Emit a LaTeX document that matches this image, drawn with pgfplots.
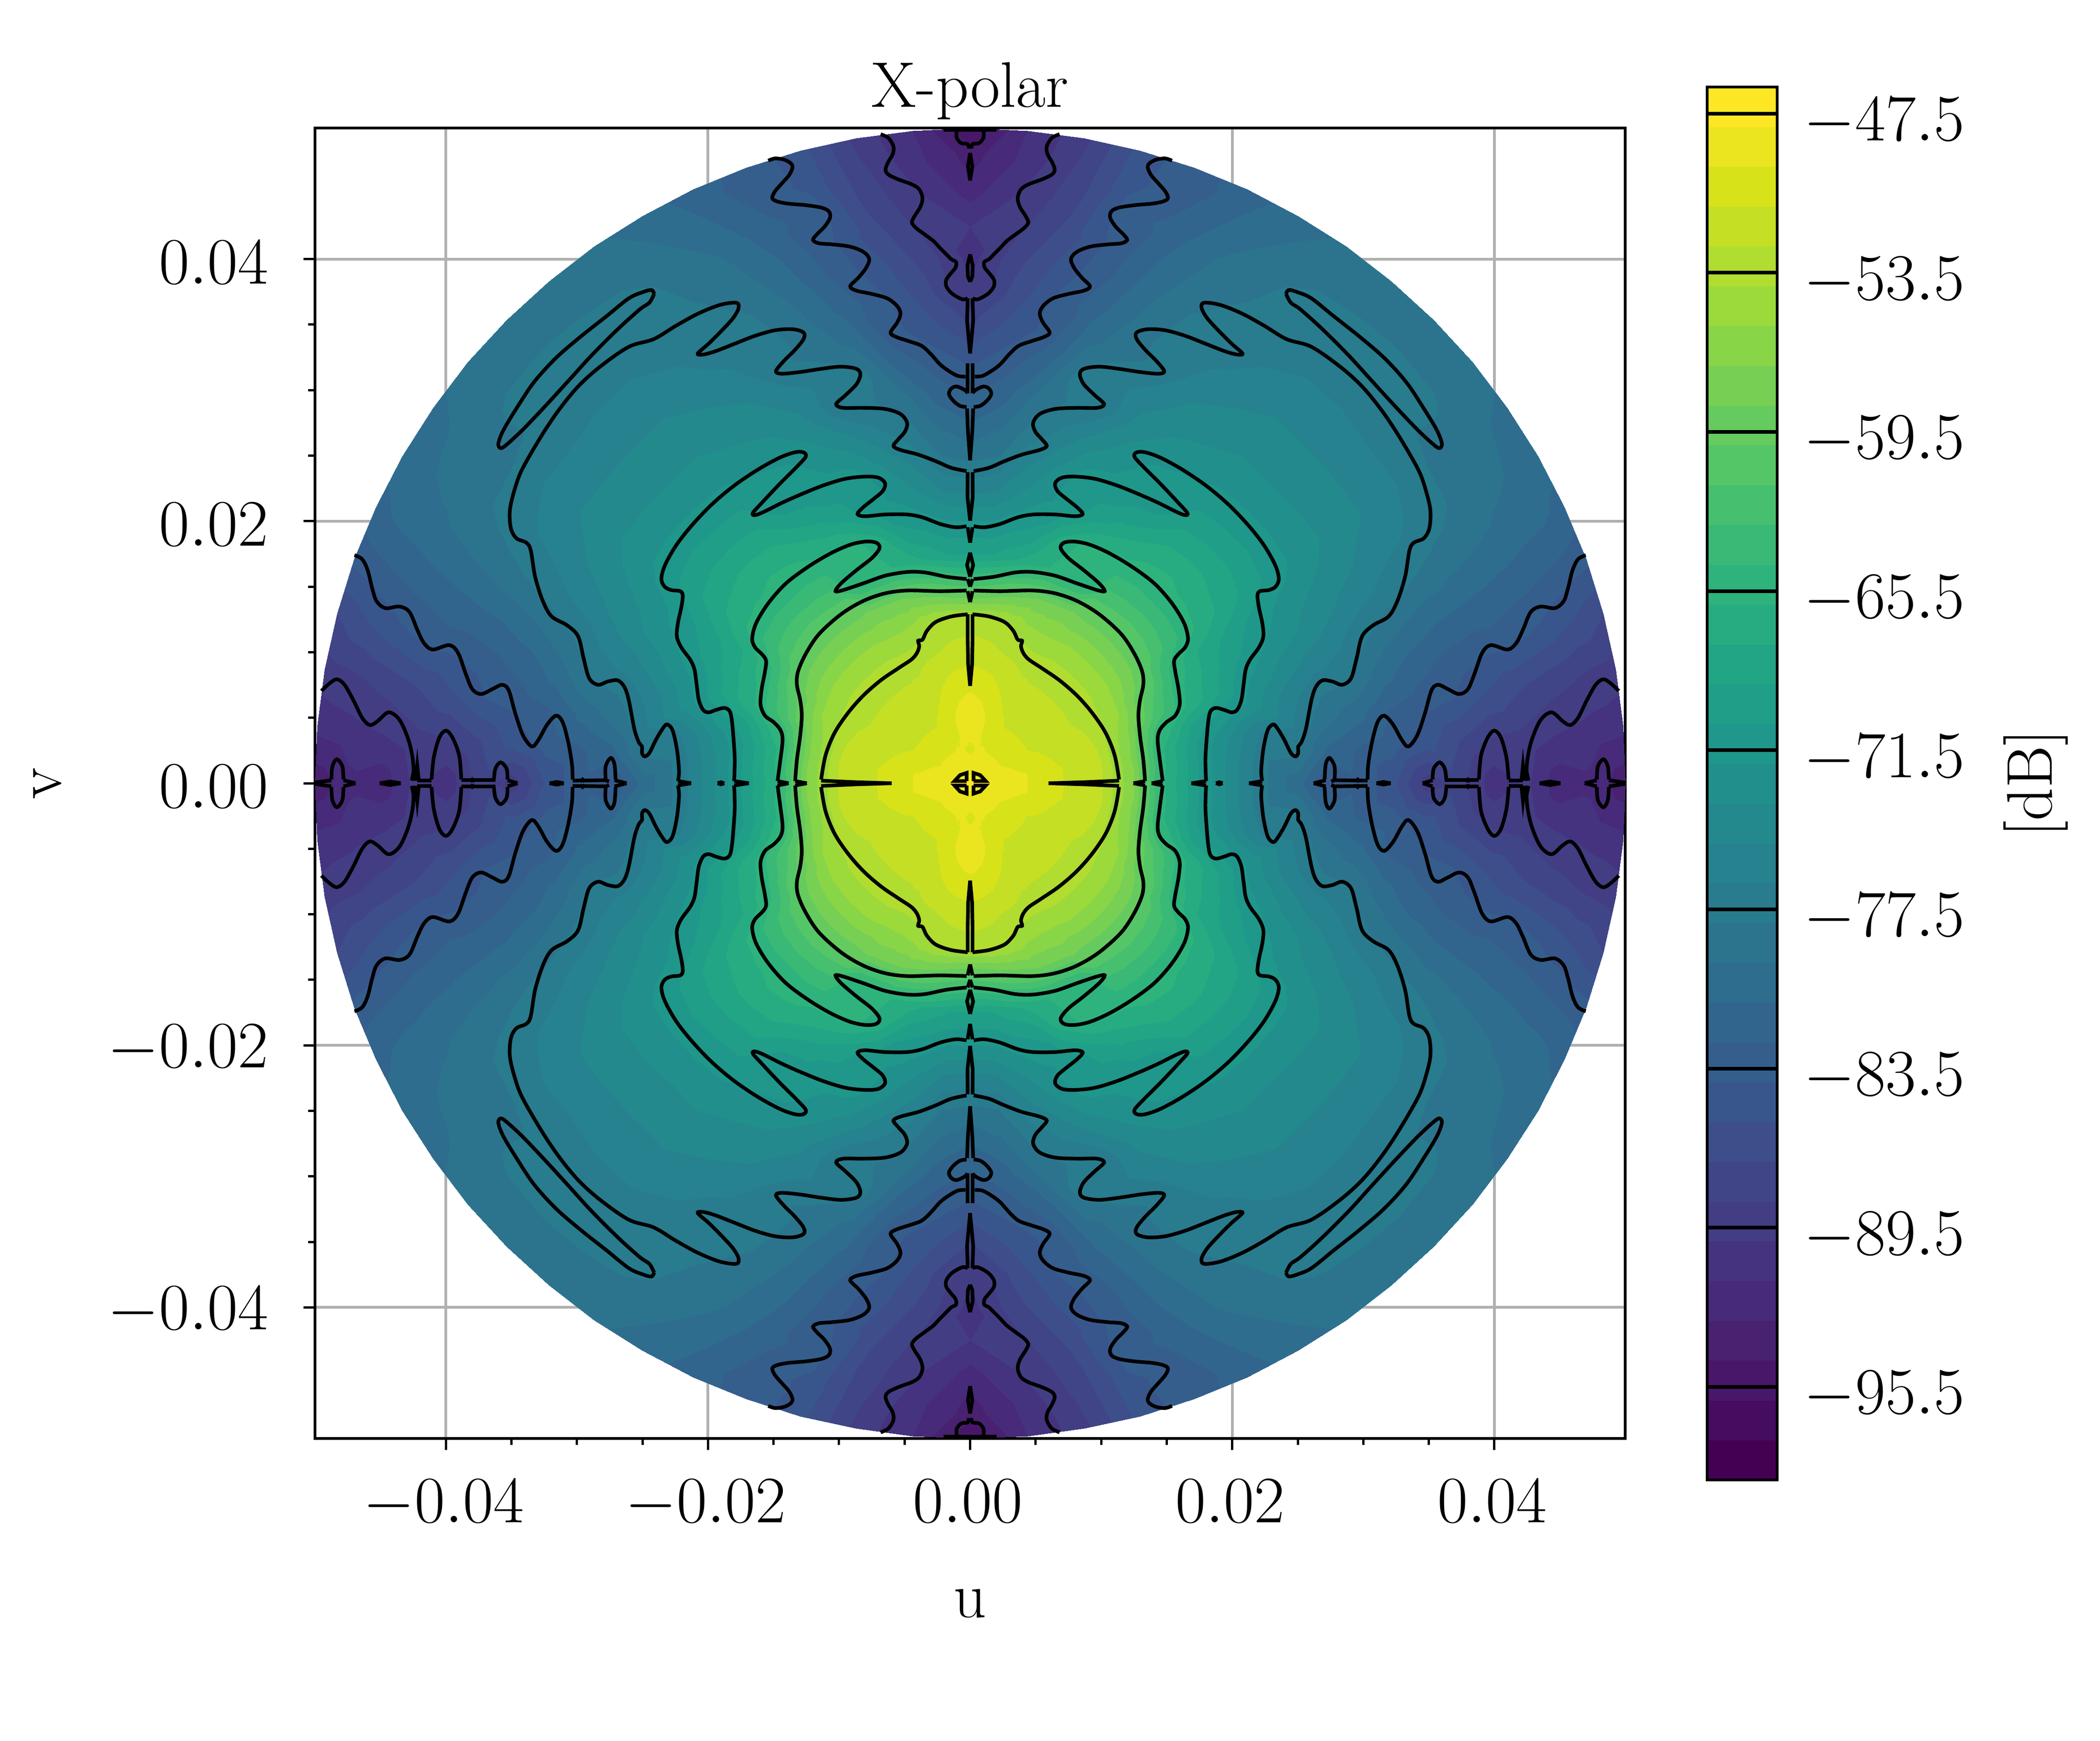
\documentclass[border=0pt]{standalone}
\usepackage{pgfplots}
\usepackage{pgfplotstable}
\pgfplotsset{compat=1.18}
\pgfplotstableread{
k t z
0 0 -47.5
1 0 -48.3
2 0 -49.9
3 0 -51.2
4 0 -52.3
5 0 -57
6 0 -66.5
7 0 -70.6
8 0 -74.3
9 0 -77.8
10 0 -80.5
11 0 -84.5
12 0 -83
13 0 -85.5
14 0 -89.5
15 0 -88
16 0 -91
17 0 -89.7
18 0 -92.5
19 0 -92
20 0 -94
0 5 -47.5
1 5 -48.3
2 5 -49.9
3 5 -51.2
4 5 -52.3
5 5 -57
6 5 -66
7 5 -70.5
8 5 -74.2
9 5 -77.6
10 5 -77.8
11 5 -81.5
12 5 -82.8
13 5 -83.4
14 5 -84.8
15 5 -87
16 5 -88.5
17 5 -88.9
18 5 -89.9
19 5 -90.5
20 5 -91
0 10 -47.5
1 10 -48.3
2 10 -49.9
3 10 -51.2
4 10 -52.3
5 10 -57.2
6 10 -66
7 10 -70.4
8 10 -73.5
9 10 -76.5
10 10 -76.5
11 10 -79
12 10 -80.5
13 10 -82.5
14 10 -83.3
15 10 -84
16 10 -85.5
17 10 -86.8
18 10 -87.8
19 10 -88.6
20 10 -89.2
0 15 -47.5
1 15 -48.8
2 15 -50.3
3 15 -51.4
4 15 -52.5
5 15 -56.8
6 15 -64.5
7 15 -69
8 15 -71.3
9 15 -73
10 15 -75.7
11 15 -77.6
12 15 -78
13 15 -80.2
14 15 -81.8
15 15 -82.7
16 15 -83.3
17 15 -83.4
18 15 -84.3
19 15 -85.5
20 15 -87
0 20 -47.5
1 20 -49
2 20 -50.5
3 20 -51.6
4 20 -52.6
5 20 -56.2
6 20 -61.9
7 20 -66
8 20 -68.7
9 20 -71.9
10 20 -73.8
11 20 -75.5
12 20 -76.5
13 20 -78.2
14 20 -79.5
15 20 -80.5
16 20 -81
17 20 -81.5
18 20 -82
19 20 -82.8
20 20 -83.5
0 25 -47.5
1 25 -49.2
2 25 -50.7
3 25 -51.8
4 25 -52.7
5 25 -55.5
6 25 -60.8
7 25 -65.5
8 25 -68
9 25 -70.4
10 25 -72.2
11 25 -73.5
12 25 -74.8
13 25 -76
14 25 -77
15 25 -78
16 25 -78.8
17 25 -79.5
18 25 -80
19 25 -80.5
20 25 -81.5
0 30 -47.5
1 30 -49.4
2 30 -51
3 30 -52
4 30 -52.9
5 30 -55.3
6 30 -59.2
7 30 -64.5
8 30 -67.5
9 30 -69.3
10 30 -71
11 30 -72.5
12 30 -73.5
13 30 -74.5
14 30 -75.5
15 30 -76.3
16 30 -77.2
17 30 -78.2
18 30 -79
19 30 -79.6
20 30 -80.3
0 35 -47.5
1 35 -49.4
2 35 -51
3 35 -52
4 35 -52.9
5 35 -55
6 35 -58.5
7 35 -62.5
8 35 -65.3
9 35 -67.3
10 35 -69
11 35 -70.8
12 35 -72.3
13 35 -73.5
14 35 -74.5
15 35 -75.5
16 35 -76.6
17 35 -78
18 35 -78.8
19 35 -79.3
20 35 -79.8
0 40 -47.5
1 40 -49.4
2 40 -51
3 40 -52
4 40 -52.9
5 40 -55
6 40 -58.3
7 40 -62
8 40 -65
9 40 -66.8
10 40 -68.5
11 40 -70.4
12 40 -72.2
13 40 -73.5
14 40 -74.5
15 40 -75.5
16 40 -76.6
17 40 -77.6
18 40 -77.5
19 40 -78.5
20 40 -79
0 45 -47.5
1 45 -49.4
2 45 -51
3 45 -52
4 45 -52.9
5 45 -55
6 45 -58.2
7 45 -61.8
8 45 -65
9 45 -66.3
10 45 -68.5
11 45 -70.5
12 45 -72.2
13 45 -73.6
14 45 -74.5
15 45 -75.5
16 45 -76.4
17 45 -77.4
18 45 -77.4
19 45 -78.4
20 45 -78.6
0 50 -47.5
1 50 -49.4
2 50 -51
3 50 -52
4 50 -52.9
5 50 -55
6 50 -58.2
7 50 -62
8 50 -64.9
9 50 -66.5
10 50 -68.7
11 50 -70.7
12 50 -72.3
13 50 -73.5
14 50 -74.5
15 50 -75.4
16 50 -76.4
17 50 -77.5
18 50 -77.4
19 50 -78.5
20 50 -79
0 55 -47.5
1 55 -49.4
2 55 -51
3 55 -52
4 55 -52.9
5 55 -55
6 55 -58.3
7 55 -62.3
8 55 -65.2
9 55 -67.5
10 55 -70.5
11 55 -71.2
12 55 -72.8
13 55 -74
14 55 -75
15 55 -76
16 55 -76.9
17 55 -77.8
18 55 -77.5
19 55 -78.8
20 55 -79.3
0 60 -47.5
1 60 -49.4
2 60 -51
3 60 -52
4 60 -52.9
5 60 -55.3
6 60 -58
7 60 -65.5
8 60 -65.3
9 60 -68.5
10 60 -71
11 60 -71.6
12 60 -73.2
13 60 -74.5
14 60 -75.7
15 60 -77
16 60 -77.2
17 60 -78
18 60 -78.5
19 60 -79.5
20 60 -80
0 65 -47.5
1 65 -49.4
2 65 -50.6
3 65 -51.8
4 65 -52.9
5 65 -55.3
6 65 -58.3
7 65 -66
8 65 -65.8
9 65 -69.8
10 65 -71.4
11 65 -72.8
12 65 -74.3
13 65 -75.8
14 65 -77.6
15 65 -77.4
16 65 -78.2
17 65 -79
18 65 -79.8
19 65 -81
20 65 -82
0 70 -47.5
1 70 -49.3
2 70 -50.2
3 70 -51.3
4 70 -52.6
5 70 -55
6 70 -58.5
7 70 -66
8 70 -67.5
9 70 -71.5
10 70 -71.6
11 70 -74
12 70 -76.8
13 70 -76.9
14 70 -78.5
15 70 -79.2
16 70 -80
17 70 -81
18 70 -82
19 70 -83
20 70 -83
0 75 -47.5
1 75 -49.4
2 75 -49.7
3 75 -50.8
4 75 -52.4
5 75 -54
6 75 -59.2
7 75 -66.8
8 75 -70.2
9 75 -72.2
10 75 -73.6
11 75 -76
12 75 -77.8
13 75 -77.6
14 75 -80
15 75 -81.5
16 75 -82.8
17 75 -83.5
18 75 -83.3
19 75 -84.5
20 75 -85
0 80 -47.5
1 80 -49.4
2 80 -49.1
3 80 -50.3
4 80 -52.1
5 80 -53.4
6 80 -60
7 80 -68
8 80 -71
9 80 -73.5
10 80 -75.5
11 80 -77.5
12 80 -79
13 80 -81.5
14 80 -83.5
15 80 -83.8
16 80 -85
17 80 -86.3
18 80 -87.5
19 80 -88.2
20 80 -89
0 85 -47.5
1 85 -49.6
2 85 -48.7
3 85 -50
4 85 -51.9
5 85 -53.2
6 85 -61
7 85 -69
8 85 -71.9
9 85 -75.2
10 85 -78
11 85 -79.8
12 85 -81.8
13 85 -83.3
14 85 -85
15 85 -86.5
16 85 -87.5
17 85 -88.8
18 85 -89.8
19 85 -91
20 85 -91.5
0 90 -47.5
1 90 -49.8
2 90 -48.4
3 90 -49.8
4 90 -51.8
5 90 -53.2
6 90 -61.5
7 90 -69
8 90 -72
9 90 -75.6
10 90 -78.5
11 90 -81
12 90 -82.8
13 90 -84.5
14 90 -87
15 90 -89.8
16 90 -90.5
17 90 -90
18 90 -92
19 90 -93.5
20 90 -96
}\meshdata
\newcommand\fsz{\fontsize{16.8}{20}\selectfont}
\tikzset{cl/.style={black,line width=0.95pt,no markers},
  sm/.style={cl,smooth,tension=0.55}}
% a contour piece in one quadrant, in reading units (594.8 units = 0.01), drawn in all four
\newcommand\Qq[2]{%
\addplot[#1] table[row sep=\\,x expr={\thisrow{a}*0.0000168124},y expr={\thisrow{b}*0.0000168124}]{a b\\#2};
\addplot[#1] table[row sep=\\,x expr={-\thisrow{a}*0.0000168124},y expr={\thisrow{b}*0.0000168124}]{a b\\#2};
\addplot[#1] table[row sep=\\,x expr={\thisrow{a}*0.0000168124},y expr={-\thisrow{b}*0.0000168124}]{a b\\#2};
\addplot[#1] table[row sep=\\,x expr={-\thisrow{a}*0.0000168124},y expr={-\thisrow{b}*0.0000168124}]{a b\\#2};
}
\newcommand\Q[1]{\Qq{sm}{#1}}
\newcommand\Qs[1]{\Qq{cl}{#1}}
\newcommand\Mesh[2]{%
\addplot[surf,shader=interp,mesh/cols=21,mesh/rows=19,point meta=\thisrow{z}] table[x expr={#1*\thisrow{k}*0.0025*cos(\thisrow{t})},y expr={#2*\thisrow{k}*0.0025*sin(\thisrow{t})}]{\meshdata};
}
\begin{document}
\begin{tikzpicture}
\useasboundingbox (0,0) rectangle (547.2pt,453.6pt);
\begin{axis}[at={(82.03pt,78.72pt)},anchor=south west,scale only axis,width=341.5pt,height=341.5pt,
  xmin=-0.05,xmax=0.05,ymin=-0.05,ymax=0.05,
  xtick={-0.04,-0.02,0,0.02,0.04},ytick={-0.04,-0.02,0,0.02,0.04},
  minor tick num=3,grid=major,
  major grid style={color=black!31,line width=0.72pt},
  axis line style={line width=0.72pt},
  tick style={black,line width=0.6pt},
  major tick length=3pt,minor tick length=1.7pt,
  tick align=outside,xtick pos=bottom,ytick pos=left,
  scaled ticks=false,
  xticklabel style={yshift=-4.2pt,xshift=-0.6pt,/pgf/number format/.cd,fixed,fixed zerofill,precision=2},
  yticklabel style={xshift=-5.6pt,yshift=-0.9pt,/pgf/number format/.cd,fixed,fixed zerofill,precision=2},
  tick label style={font=\fsz},
  xlabel={u},ylabel={v},title={X-polar},
  every axis x label/.style={at={(axis description cs:0.5,0)},anchor=center,yshift=-43pt,font=\fsz},
  every axis y label/.style={at={(axis description cs:0,0.5)},anchor=center,xshift=-69.7pt,rotate=90,font=\fsz},
  every axis title/.style={at={(axis description cs:0.5,1)},anchor=base,yshift=5.5pt,font=\fsz},
  point meta min=-99,point meta max=-46.5,
  colormap/viridis,
  colormap={vd}{samples of colormap=(35 of viridis)},
  colormap access=piecewise constant]
\Mesh{1}{1}
\Mesh{-1}{1}
\Mesh{1}{-1}
\Mesh{-1}{-1}
% -53.5
\Q{11 767\\86 757\\156 732\\196 692\\216 652\\236 647\\231 622\\241 592\\266 562\\326 522\\406 467\\486 397\\556 317\\616 227\\656 127\\676 17\\}
\Qs{356 0\\520 5\\676 12\\}
% -59.5
\Q{16 875\\136 872\\286 875\\386 862\\486 827\\586 767\\686 677\\746 587\\781 507\\786 447\\771 377\\764 307\\771 217\\786 107\\794 10\\}
\Qs{741 0\\794 10\\}
% -65.5
\Q{16 927\\106 937\\206 957\\286 959\\386 942\\486 907\\576 877\\611 872\\586 907\\516 967\\446 1022\\411 1067\\426 1092\\476 1097\\546 1082\\636 1042\\736 982\\836 907\\916 817\\971 727\\989 657\\976 617\\946 587\\926 557\\931 507\\946 427\\951 357\\931 307\\891 277\\861 242\\851 197\\861 107\\874 10\\}
\Qs{824 0\\874 10\\}
% -71.5
\Q{16 1167\\66 1162\\136 1177\\216 1207\\286 1220\\386 1220\\476 1212\\511 1222\\486 1252\\436 1292\\396 1327\\386 1362\\416 1387\\476 1392\\566 1382\\666 1352\\766 1312\\856 1272\\936 1232\\976 1217\\986 1227\\946 1272\\866 1357\\786 1437\\746 1482\\756 1502\\796 1502\\866 1477\\966 1422\\1076 1347\\1176 1262\\1266 1167\\1336 1077\\1386 987\\1401 927\\1386 892\\1356 877\\1316 872\\1304 852\\1311 797\\1326 727\\1331 667\\1311 617\\1271 562\\1251 517\\1241 447\\1231 377\\1211 332\\1186 322\\1156 332\\1116 342\\1091 327\\1081 282\\1074 207\\1068 107\\1071 10\\}
\Qs{1004 0\\1071 10\\}
\Qs{1116 0\\1131 5\\1146 0\\}
% -77.5
\Q{16 1417\\86 1432\\156 1462\\236 1492\\316 1513\\348 1531\\326 1561\\296 1596\\286 1636\\316 1676\\386 1699\\486 1704\\576 1704\\608 1721\\566 1761\\516 1811\\498 1856\\516 1881\\586 1891\\676 1881\\776 1866\\856 1859\\881 1871\\846 1916\\796 1966\\756 2016\\756 2046\\806 2061\\886 2056\\976 2031\\1066 1996\\1156 1961\\1211 1946\\1236 1951\\1186 1996\\1126 2056\\1076 2111\\1051 2156\\1061 2181\\1136 2171\\1236 2131\\1336 2076\\1436 2016\\1549 1981\\1679 1891\\1779 1801\\1869 1691\\1949 1571\\2034 1423\\2069 1327\\2089 1237\\2084 1157\\2059 1112\\2014 1092\\1994 1057\\1974 937\\1939 827\\1899 757\\1829 717\\1779 667\\1754 567\\1729 477\\1689 447\\1644 462\\1599 467\\1569 437\\1549 377\\1524 247\\1504 187\\1489 167\\1489 137\\1477 122\\1456 137\\1426 197\\1396 247\\1376 267\\1351 242\\1331 157\\1321 57\\1326 10\\}
\Qs{1266 0\\1326 10\\}
% ellipse
\Q{1434 2221\\1446 2239\\1486 2229\\1549 2201\\1649 2121\\1769 2026\\1879 1931\\1979 1821\\2059 1701\\2119 1601\\2141 1541\\2129 1521\\2099 1541\\2029 1606\\1929 1711\\1819 1831\\1719 1941\\1599 2061\\1499 2151\\1456 2181\\1434 2221\\}
% -83.5
\Q{21 1846\\56 1849\\96 1871\\136 1901\\181 1951\\221 1986\\276 2006\\336 2026\\361 2046\\331 2091\\316 2131\\331 2166\\376 2201\\446 2221\\516 2236\\544 2256\\506 2296\\471 2341\\458 2381\\486 2413\\546 2436\\626 2446\\686 2451\\713 2466\\696 2491\\661 2526\\636 2566\\641 2596\\676 2613\\746 2624\\826 2631\\876 2641\\898 2656\\886 2686\\856 2721\\821 2761\\806 2796\\816 2816\\846 2831\\886 2836\\916 2826\\}
\Q{2794 1035\\2759 1017\\2734 967\\2714 887\\2694 827\\2654 795\\2589 802\\2544 777\\2509 697\\2479 637\\2439 607\\2364 627\\2324 592\\2289 497\\2259 427\\2219 405\\2169 427\\2124 447\\2094 422\\2064 317\\2029 217\\1989 167\\1959 197\\1919 267\\1879 307\\1849 277\\1824 187\\1807 87\\1804 17\\}
% -89.5
\Q{11 2201\\31 2196\\56 2206\\86 2226\\108 2256\\108 2286\\86 2316\\66 2341\\64 2366\\86 2379\\106 2399\\136 2429\\166 2461\\206 2491\\246 2521\\264 2546\\251 2576\\226 2616\\216 2656\\231 2696\\266 2719\\326 2741\\371 2763\\384 2786\\371 2821\\351 2856\\348 2891\\371 2929\\406 2946\\}
\Q{2944 419\\2909 452\\2874 472\\2839 447\\2799 377\\2759 297\\2724 264\\2689 282\\2639 322\\2589 287\\2549 197\\2529 107\\2524 17\\}
\Q{2309 17\\2319 127\\2349 207\\2379 239\\2409 207\\2434 117\\2444 17\\}
\Q{1609 17\\1614 87\\1631 115\\1654 77\\1654 17\\}
\Q{2099 17\\2104 67\\2131 95\\2154 67\\2161 17\\}
\Q{2844 17\\2849 77\\2874 109\\2894 77\\2899 17\\}
% bump and top
\Q{11 1771\\26 1786\\61 1801\\86 1791\\96 1766\\76 1736\\46 1713\\16 1708\\}
\Qs{11 1906\\11 1771\\}
\Q{6 2881\\11 2901\\41 2906\\61 2931\\61 2961\\}
\Qs{0 2966\\121 2966\\}
% slivers along the v axis
\Qs{11 767\\11 650\\9 540\\0 442\\}
\Qs{0 1047\\14 990\\0 937\\}
\Qs{11 927\\0 892\\}
\Qs{11 872\\0 822\\}
\Qs{11 1162\\0 1092\\}
\Qs{11 1412\\12 1300\\0 1192\\}
\Qs{14 1701\\10 1600\\0 1466\\}
\Qs{11 2201\\14 2100\\0 1951\\}
\Qs{0 2401\\12 2350\\10 2300\\0 2276\\}
\Qs{0 2861\\10 2800\\0 2736\\}
% slivers along the u axis
\Qs{1559 0\\1614 14\\}
\Qs{1639 8\\1654 14\\1804 12\\}
\Qs{1749 8\\1759 17\\1769 8\\}
\Qs{1844 0\\1876 6\\1909 0\\}
\Qs{2054 0\\2099 14\\}
\Qs{2154 14\\2309 14\\}
\Qs{2249 8\\2259 17\\2269 8\\}
\Qs{2444 12\\2509 12\\}
\Qs{2502 12\\2509 80\\2516 12\\}
\Qs{2516 12\\2524 60\\2534 12\\}
\Qs{2584 0\\2632 8\\2679 0\\}
\Qs{2789 0\\2844 14\\}
\Qs{2899 14\\2974 3\\}
% centre
\Qs{16 10\\16 47\\46 37\\71 10\\16 10\\}
\end{axis}
\begin{axis}[at={(444.84pt,67.97pt)},anchor=south west,scale only axis,width=18.2pt,height=362.95pt,
  xmin=0,xmax=1,ymin=-99,ymax=-46.5,xtick=\empty,
  ytick={-95.5,-89.5,-83.5,-77.5,-71.5,-65.5,-59.5,-53.5,-47.5},
  yticklabel pos=right,major tick length=0pt,
  yticklabel style={font=\fsz,xshift=3.4pt,yshift=-2.2pt,/pgf/number format/.cd,fixed,fixed zerofill,precision=1},
  axis line style={line width=0.72pt},axis on top,
  ylabel={[dB]},
  every axis y label/.style={at={(axis description cs:1,0.5)},anchor=center,xshift=67.4pt,rotate=90,font=\fsz},
  point meta min=-99,point meta max=-46.5,
  colormap/viridis,
  colormap={vd}{samples of colormap=(35 of viridis)},
  colormap access=piecewise constant]
\addplot[surf,shader=interp,mesh/cols=2,mesh/rows=2,point meta=y] coordinates {(0,-99) (1,-99) (0,-46.5) (1,-46.5)};
\addplot[cl] coordinates {(0,-95.5)(1,-95.5)};
\addplot[cl] coordinates {(0,-89.5)(1,-89.5)};
\addplot[cl] coordinates {(0,-83.5)(1,-83.5)};
\addplot[cl] coordinates {(0,-77.5)(1,-77.5)};
\addplot[cl] coordinates {(0,-71.5)(1,-71.5)};
\addplot[cl] coordinates {(0,-65.5)(1,-65.5)};
\addplot[cl] coordinates {(0,-59.5)(1,-59.5)};
\addplot[cl] coordinates {(0,-53.5)(1,-53.5)};
\addplot[cl] coordinates {(0,-47.5)(1,-47.5)};
\end{axis}
\end{tikzpicture}
\end{document}
